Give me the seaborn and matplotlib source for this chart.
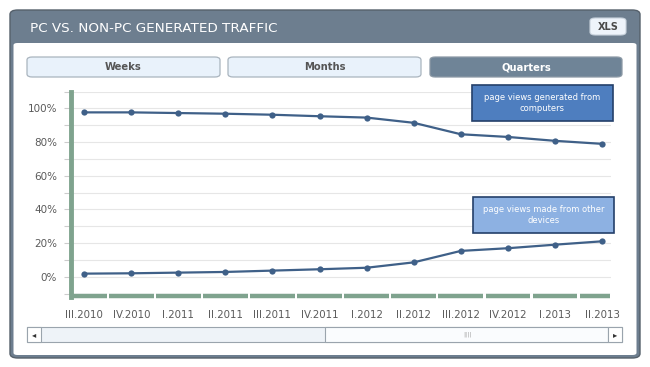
import pandas as pd
import matplotlib.pyplot as plt
import seaborn as sns
from matplotlib.patches import FancyBboxPatch, Rectangle

# quarters and traffic shares (%)
quarters = ['III.2010', 'IV.2010', 'I.2011', 'II.2011', 'III.2011', 'IV.2011',
            'I.2012', 'II.2012', 'III.2012', 'IV.2012', 'I.2013', 'II.2013']
pc_share = [97.6, 97.6, 97.2, 96.8, 96.2, 95.3, 94.5, 91.4, 84.6, 83.0, 80.7, 78.9]
other_share = [1.8, 2.0, 2.4, 2.8, 3.6, 4.4, 5.3, 8.5, 15.3, 16.9, 19.0, 21.0]
y_ticks = [0, 20, 40, 60, 80, 100]
buttons = ['Weeks', 'Months', 'Quarters']

W, H = 650, 367
line_col = '#3f6088'
green = '#7fa38e'
frame_col = '#6d7e8f'

sns.set_theme(style='white')
plt.rcParams['font.family'] = ['DejaVu Sans']

fig = plt.figure(figsize=(6.5, 3.67), dpi=100)


def box(x0, y0, x1, y1):
    # pixel coords from the top-left corner -> figure fraction
    return (x0 / W, 1 - y1 / H), (x1 - x0) / W, (y1 - y0) / H


def rbox(x0, y0, x1, y1, pad=0.006, **kw):
    (x, y), w, h = box(x0, y0, x1, y1)
    p = FancyBboxPatch((x, y), w, h, boxstyle=f'round,pad=0,rounding_size={pad}',
                       transform=fig.transFigure, **kw)
    fig.add_artist(p)
    return p


def rect(x0, y0, x1, y1, **kw):
    (x, y), w, h = box(x0, y0, x1, y1)
    fig.add_artist(Rectangle((x, y), w, h, transform=fig.transFigure, **kw))


def ftext(px, py, s, **kw):
    fig.text(px / W, 1 - py / H, s, **kw)


# frame and header
rbox(10, 10, 640, 358, pad=0.012, facecolor=frame_col, edgecolor='#55606b', lw=1)
rbox(13.5, 43, 636.5, 355, pad=0.006, facecolor='white', edgecolor='none')
ftext(30, 28, 'PC VS. NON-PC GENERATED TRAFFIC', color='white', fontsize=9.7,
      va='center', ha='left')
rbox(590, 18, 626, 35, pad=0.008, facecolor='#eef4fb', edgecolor='#c9d3dd', lw=0.8)
ftext(608, 26.5, 'XLS', color='#4a4a4a', fontsize=7, fontweight='bold',
      ha='center', va='center')

# period buttons
btn_pos = [(27, 220), (228, 421), (430, 622)]
for name, (bx0, bx1) in zip(buttons, btn_pos):
    active = name == 'Quarters'
    rbox(bx0, 57, bx1, 77, pad=0.008,
         facecolor='#6f8497' if active else '#e9f2fb',
         edgecolor='#8d9aa6' if active else '#a9b4be', lw=0.9)
    ftext((bx0 + bx1) / 2, 67, name, color='white' if active else '#555555',
          fontsize=7.2, fontweight='bold', ha='center', va='center')

# chart area
(ax_x, ax_y), ax_w, ax_h = box(71, 91.5, 611, 293.5)
ax = fig.add_axes([ax_x, ax_y, ax_w, ax_h])
ax.set_zorder(2)
ax.patch.set_alpha(0)

df = pd.DataFrame({
    'quarter': list(range(len(quarters))) * 2,
    'share': pc_share + other_share,
    'series': ['pc'] * len(quarters) + ['other'] * len(quarters),
})
sns.lineplot(data=df, x='quarter', y='share', hue='series',
             palette={'pc': line_col, 'other': line_col}, marker='o',
             markersize=4.5, markeredgewidth=0, linewidth=1.6, legend=False, ax=ax)

ax.set_xlim(-0.28, 11.19)
ax.set_ylim(-10, 110)
ax.set_yticks(range(-10, 111, 10))
ax.set_yticklabels([f'{v}%' if v in y_ticks else '' for v in range(-10, 111, 10)])
ax.yaxis.grid(True, color='#e6e6e6', lw=0.8)
ax.tick_params(axis='y', left=True, length=5, width=0.8, color='#cccccc', pad=5,
               labelsize=7.5, labelcolor='#5a5a5a')
ax.set_xticks(range(len(quarters)))
ax.set_xticklabels(quarters)
ax.tick_params(axis='x', bottom=False, pad=6, labelsize=7.4, labelcolor='#5a5a5a')
ax.set_xlabel('')
ax.set_ylabel('')
for side in ['top', 'right', 'bottom']:
    ax.spines[side].set_visible(False)
ax.spines['left'].set_color(green)
ax.spines['left'].set_linewidth(3.5)
ax.spines['left'].set_bounds(-12, 110)

# segmented green base bar, one piece per quarter
for i in range(len(quarters)):
    left = max(i - 0.5, -0.28) + 0.025
    right = min(i + 0.5, 11.19) - 0.025
    ax.plot([left, right], [-11.2, -11.2], color=green, lw=3.2,
            solid_capstyle='butt', clip_on=False)

# series labels
for (bx0, by0, bx1, by1), label, fc in [
        ((472, 85, 613, 121), 'page views generated from\ncomputers', '#4e7ebf'),
        ((473, 197, 614, 233), 'page views made from other\ndevices', '#8db1e2')]:
    rect(bx0, by0, bx1, by1, facecolor=fc, edgecolor='#24406a', lw=1.2, zorder=3)
    ftext((bx0 + bx1) / 2, (by0 + by1) / 2, label, color='white', fontsize=6,
          ha='center', va='center', linespacing=1.3, zorder=4)

# scrollbar
rect(27, 327, 622, 342, facecolor='#eef3f8', edgecolor='#9aa4ad', lw=0.8)
rect(325, 327, 608, 342, facecolor='#fafcfe', edgecolor='#9aa4ad', lw=0.8)
for bx in (27, 608):
    rect(bx, 327, bx + 14, 342, facecolor='white', edgecolor='#9aa4ad', lw=0.8)
ftext(34, 334.5, '◂', color='#333333', fontsize=6, ha='center', va='center')
ftext(615, 334.5, '▸', color='#333333', fontsize=6, ha='center', va='center')
ftext(467, 334.5, '||||', color='#aaaaaa', fontsize=4.5, ha='center', va='center')

fig.savefig('out.png', dpi=100)
